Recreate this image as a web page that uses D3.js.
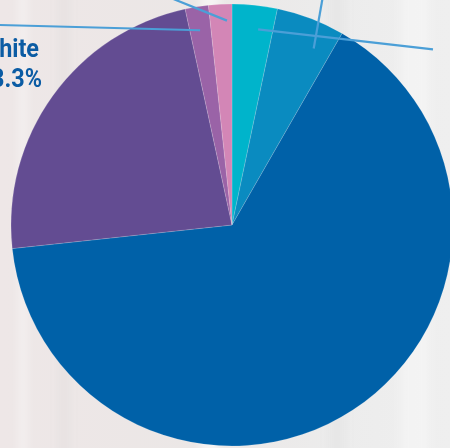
<!DOCTYPE html>
<html>
<head>
<meta charset="utf-8">
<script src="https://cdn.jsdelivr.net/npm/d3@7"></script>
<style>
html,body{margin:0;padding:0;overflow:hidden;background:#ece9e9;}
svg{display:block;}
</style>
</head>
<body>
<svg id="chart" width="450" height="448"></svg>
<script>
// ---- data ----
const categories = ["Asian", "Hispanic", "Black", "White", "Two or more races", "Other"];
const values = [3.3, 5.0, 65.0, 23.3, 1.7, 1.7];
const colors = ["#00b4cb", "#0a8bc0", "#0061a8", "#634c92", "#9a63a7", "#d386b6"];
const visibleLabels = [{name: "White", value: "23.3%"}];

// ---- layout ----
const W = 450, H = 448;
const cx = 232, cy = 225, R = 221;
const svg = d3.select("#chart");

// faded photo-like background
const defs = svg.append("defs");
const bg = defs.append("linearGradient").attr("id", "bg").attr("x1", 0).attr("x2", 1).attr("y1", 0).attr("y2", 0);
bg.append("stop").attr("offset", "0%").attr("stop-color", "#eee7e7");
bg.append("stop").attr("offset", "45%").attr("stop-color", "#ebe7e6");
bg.append("stop").attr("offset", "75%").attr("stop-color", "#ececec");
bg.append("stop").attr("offset", "100%").attr("stop-color", "#efefef");
defs.append("filter").attr("id", "blur").append("feGaussianBlur").attr("stdDeviation", 4);
svg.append("rect").attr("width", W).attr("height", H).attr("fill", "url(#bg)");
const bands = svg.append("g").attr("filter", "url(#blur)");
[[18, 10, "#ffffff", 0.35], [60, 8, "#d9d4d4", 0.35], [200, 20, "#ffffff", 0.5], [330, 14, "#dcdcdc", 0.35], [400, 30, "#f7f7f7", 0.6]]
  .forEach(([x, w, c, o]) => bands.append("rect").attr("x", x).attr("y", -20).attr("width", w).attr("height", H + 40).attr("fill", c).attr("opacity", o));

// ---- pie ----
const pie = d3.pie().sort(null).value(d => d)(values);
const arc = d3.arc().innerRadius(0).outerRadius(R);
const g = svg.append("g").attr("transform", `translate(${cx},${cy})`);
g.selectAll("path.slice").data(pie).join("path")
  .attr("class", "slice")
  .attr("d", arc)
  .attr("fill", (d, i) => colors[i])
  .attr("stroke", "rgba(255,255,255,0.25)")
  .attr("stroke-width", 0.6);

// ---- leader lines (inner point inside slice, outer point toward off-canvas labels) ----
function pointAt(angle, r) { return [Math.sin(angle) * r, -Math.cos(angle) * r]; }
// [slice index, position within slice (0..1), radius fraction, outer direction angle(deg, screen), outer length]
const leaders = [
  [4, 0.48, 0.893, 181.5, 240],
  [5, 0.77, 0.925, 202, 60],
  [0, 0.64, 0.893, 6.5, 176],
  [1, 0.72, 0.88, -80, 60]
];
const lineG = g.append("g");
leaders.forEach(([i, f, rf, dirDeg, len]) => {
  const d = pie[i];
  const a = d.startAngle + (d.endAngle - d.startAngle) * f;
  const p = pointAt(a, R * rf);
  const t = dirDeg * Math.PI / 180;
  const q = [p[0] + Math.cos(t) * len, p[1] + Math.sin(t) * len];
  lineG.append("line")
    .attr("x1", p[0]).attr("y1", p[1]).attr("x2", q[0]).attr("y2", q[1])
    .attr("stroke", "#4b9fd7").attr("stroke-width", 2.2).attr("stroke-linecap", "butt");
});

// ---- visible label (White) ----
const t1 = svg.append("g").attr("transform", "translate(39,57) scale(0.9,1)");
t1.append("text").attr("text-anchor", "end")
  .attr("font-family", "Roboto, 'Noto Sans', sans-serif").attr("font-weight", 700)
  .attr("font-size", 26).attr("fill", "#0b5ca4").text(visibleLabels[0].name);
const t2 = svg.append("g").attr("transform", "translate(42,87) scale(0.9,1)");
t2.append("text").attr("text-anchor", "end")
  .attr("font-family", "Roboto, 'Noto Sans', sans-serif").attr("font-weight", 700)
  .attr("font-size", 26).attr("fill", "#0b5ca4").text(visibleLabels[0].value);
</script>
</body>
</html>
